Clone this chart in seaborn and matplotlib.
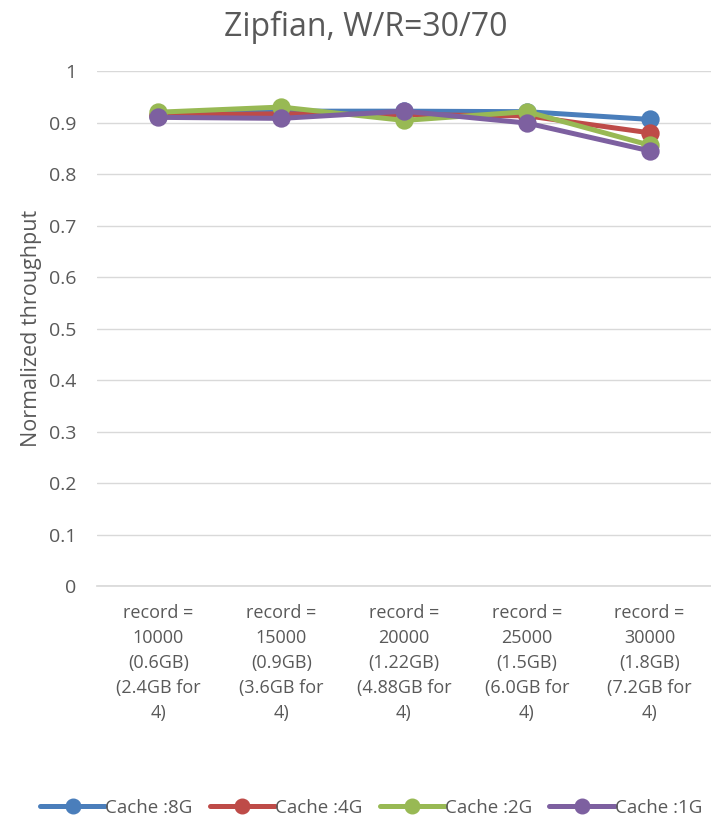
import matplotlib
matplotlib.use("Agg")
import matplotlib.pyplot as plt
import seaborn as sns
import pandas as pd
from matplotlib.lines import Line2D

categories = [
    "record =\n10000\n(0.6GB)\n(2.4GB for\n4)",
    "record =\n15000\n(0.9GB)\n(3.6GB for\n4)",
    "record =\n20000\n(1.22GB)\n(4.88GB for\n4)",
    "record =\n25000\n(1.5GB)\n(6.0GB for\n4)",
    "record =\n30000\n(1.8GB)\n(7.2GB for\n4)",
]
series_names = ["Cache :8G", "Cache :4G", "Cache :2G", "Cache :1G"]
cache_8g = [0.912, 0.922, 0.922, 0.921, 0.906]
cache_4g = [0.914, 0.917, 0.915, 0.913, 0.880]
cache_2g = [0.920, 0.930, 0.904, 0.921, 0.856]
cache_1g = [0.910, 0.908, 0.922, 0.899, 0.845]
colors = ["#4a7ebb", "#be4b48", "#98b954", "#7d60a0"]

rows = []
for name, vals in zip(series_names, [cache_8g, cache_4g, cache_2g, cache_1g]):
    for c, v in zip(categories, vals):
        rows.append({"cat": c, "val": v, "series": name})
df = pd.DataFrame(rows)

sns.set_theme(style="white")
plt.rcParams['font.family'] = ['Open Sans', 'DejaVu Sans']
txt = "#595959"

fig = plt.figure(figsize=(7.11, 8.22), dpi=100)
ax = fig.add_axes([97/711, 1-586/822, (711-97)/711, (586-71)/822])

sns.pointplot(data=df, x="cat", y="val", hue="series", palette=colors,
              markers="o", linestyles="-", ax=ax, legend=False,
              markersize=10.5, linewidth=3.6, errorbar=None)

ax.set_ylim(0, 1)
ax.set_xlim(-0.5, 4.5)
ax.set_yticks([i/10 for i in range(11)])
ax.set_yticklabels(["0", "0.1", "0.2", "0.3", "0.4", "0.5", "0.6", "0.7", "0.8", "0.9", "1"])
ax.yaxis.grid(True, color="#d9d9d9", linewidth=1)
ax.set_axisbelow(True)
for s in ["top", "right", "left"]:
    ax.spines[s].set_visible(False)
ax.spines["bottom"].set_color("#d9d9d9")
ax.tick_params(axis="y", labelsize=14, labelcolor=txt, length=0, pad=15)
ax.tick_params(axis="x", labelsize=13, labelcolor=txt, length=0, pad=13)
for lbl in ax.get_xticklabels():
    lbl.set_linespacing(1.5)
ax.set_xlabel("")
ax.set_ylabel("Normalized throughput", fontsize=15.5, color=txt)
ax.yaxis.set_label_coords((42 - 97)/614, 0.5)
fig.text(366/711, 1-27/822, "Zipfian, W/R=30/70", ha="center", va="center",
         fontsize=23, color=txt)

handles = [Line2D([0], [0], color=c, lw=3.6, marker="o", markersize=10.5) for c in colors]
fig.legend(handles, series_names, loc="center", bbox_to_anchor=(371/711, 1-808/822),
           ncol=4, frameon=False, fontsize=13.5, labelcolor=txt,
           handlelength=3.5, handletextpad=0.0, columnspacing=0.9)

fig.savefig("out.png", dpi=100)
